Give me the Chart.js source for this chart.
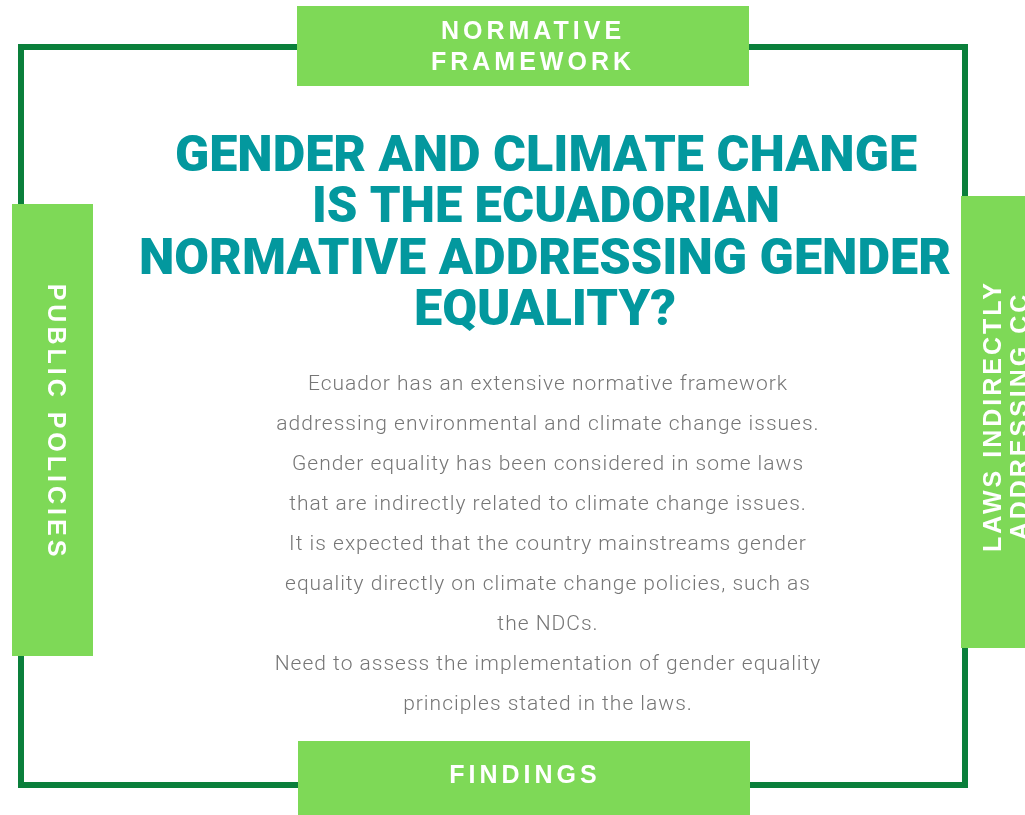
<!DOCTYPE html>
<html lang="en">
<head>
    <meta charset="UTF-8">
    <title>Gender and Climate Change</title>
    <script src="https://cdn.jsdelivr.net/npm/chart.js"></script>
    <style>
        html, body { margin: 0; padding: 0; background: #ffffff; }
        #board { display: block; }
    </style>
</head>
<body>
    <canvas id="board" width="1025" height="815"></canvas>

    <script>
        // text content of the infographic
        const titleLines = [
            'GENDER AND CLIMATE CHANGE',
            'IS THE ECUADORIAN',
            'NORMATIVE ADDRESSING GENDER',
            'EQUALITY?'
        ];
        const bodyLines = [
            'Ecuador has an extensive normative framework',
            'addressing environmental and climate change issues.',
            'Gender equality has been considered in some laws',
            'that are indirectly related to climate change issues.',
            'It is expected that the country mainstreams gender',
            'equality directly on climate change policies, such as',
            'the NDCs.',
            'Need to assess the implementation of gender equality',
            'principles stated in the laws.'
        ];
        const topLabel = ['NORMATIVE', 'FRAMEWORK'];
        const leftLabel = ['PUBLIC POLICIES'];
        const rightLabel = ['LAWS INDIRECTLY', 'ADDRESSING CC'];
        const bottomLabel = ['FINDINGS'];

        const lightGreen = '#7ed957';
        const darkGreen = '#0a7f3b';
        const teal = '#03989e';
        const grey = '#767676';

        // draws the frame, tabs and text using the chart's own scales
        const boardPlugin = {
            id: 'board',
            afterDraw(chart) {
                const ctx = chart.ctx;
                const xs = chart.scales.x, ys = chart.scales.y;
                const px = v => xs.getPixelForValue(v);
                const py = v => ys.getPixelForValue(v);

                ctx.save();
                // outer frame
                ctx.strokeStyle = darkGreen;
                ctx.lineWidth = 6;
                ctx.strokeRect(px(21), py(47), px(965) - px(21), py(785) - py(47));

                // tabs
                ctx.fillStyle = lightGreen;
                ctx.fillRect(px(297), py(6), px(749) - px(297), py(86) - py(6));
                ctx.fillRect(px(12), py(204), px(93) - px(12), py(656) - py(204));
                ctx.fillRect(px(961), py(196), px(1025) - px(961), py(648) - py(196));
                ctx.fillRect(px(298), py(741), px(750) - px(298), py(815) - py(741));

                // tab labels
                ctx.fillStyle = '#ffffff';
                ctx.textAlign = 'center';
                ctx.textBaseline = 'middle';
                ctx.font = 'bold 25px "Liberation Sans", Arial, sans-serif';
                ctx.letterSpacing = '4px';
                topLabel.forEach((t, i) => ctx.fillText(t, px(533), py(32 + i * 31.5)));
                bottomLabel.forEach(t => ctx.fillText(t, px(525), py(776)));

                ctx.save();
                ctx.translate(px(55), py(422));
                ctx.rotate(Math.PI / 2);
                leftLabel.forEach(t => ctx.fillText(t, 0, 0));
                ctx.restore();

                ctx.letterSpacing = '3px';
                ctx.save();
                ctx.translate(px(994), py(416));
                ctx.rotate(-Math.PI / 2);
                rightLabel.forEach((t, i) => ctx.fillText(t, 0, i * 27.5));
                ctx.restore();

                // title, each line stretched to its width in the picture
                const titleWidths = [742, 468, 812, 262];
                const titleCenters = [546, 546, 545, 545];
                ctx.letterSpacing = '0px';
                ctx.fillStyle = teal;
                ctx.font = '900 50px Roboto, "Liberation Sans", sans-serif';
                titleLines.forEach((t, i) => {
                    const w = ctx.measureText(t).width;
                    ctx.save();
                    ctx.translate(px(titleCenters[i]), py(158 + i * 51.5));
                    ctx.scale(titleWidths[i] / w, 1);
                    ctx.fillText(t, 0, 0);
                    ctx.restore();
                });

                // body text
                ctx.fillStyle = grey;
                ctx.font = '300 21px Roboto, Lato, sans-serif';
                ctx.letterSpacing = '1px';
                bodyLines.forEach((t, i) => ctx.fillText(t, px(548), py(385 + i * 40)));
                ctx.restore();
            }
        };

        new Chart(document.getElementById('board'), {
            type: 'scatter',
            data: { datasets: [{ data: [] }] },
            options: {
                responsive: false,
                animation: false,
                layout: { padding: 0 },
                plugins: { legend: { display: false }, tooltip: { enabled: false } },
                scales: {
                    x: { type: 'linear', min: 0, max: 1025, display: false },
                    y: { type: 'linear', min: 0, max: 815, reverse: true, display: false }
                }
            },
            plugins: [boardPlugin]
        });
    </script>
</body>
</html>
